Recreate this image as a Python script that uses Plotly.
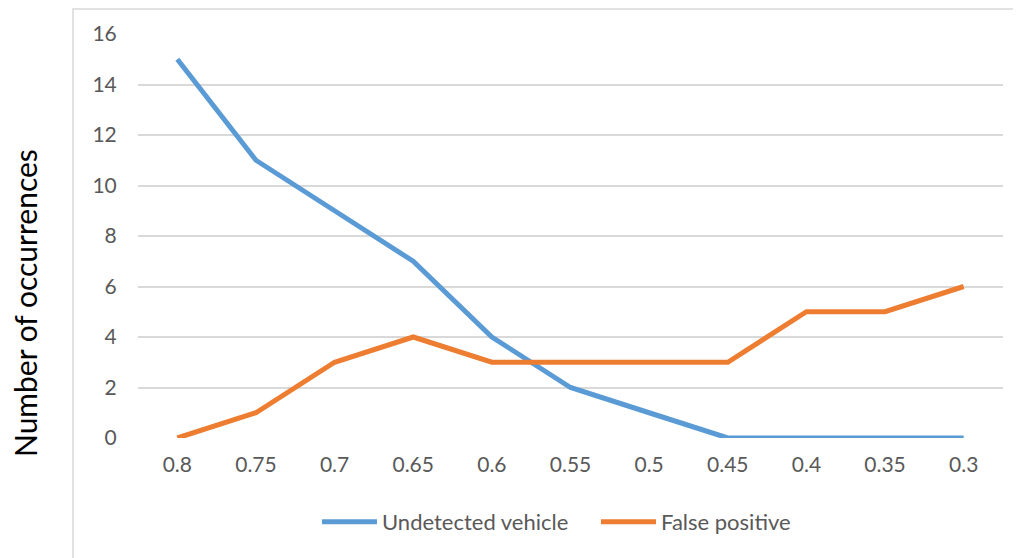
import plotly.graph_objects as go

thresholds = ["0.8", "0.75", "0.7", "0.65", "0.6", "0.55", "0.5", "0.45", "0.4", "0.35", "0.3"]
undetected = [15, 11, 9, 7, 4, 2, 1, 0, 0, 0, 0]
false_pos = [0, 1, 3, 4, 3, 3, 3, 3, 5, 5, 6]
y_title = "Number of occurrences"

font_fam = "Lato, Open Sans, sans-serif"
fig = go.Figure()
fig.add_trace(go.Scatter(x=thresholds, y=undetected, mode="lines", name="Undetected vehicle",
                         line=dict(color="#5B9BD5", width=5)))
fig.add_trace(go.Scatter(x=thresholds, y=false_pos, mode="lines", name="False positive",
                         line=dict(color="#ED7D31", width=5)))

W, H = 1013, 550
L, R, T, B = 130, 18, 26, 120
pw, ph = W - L - R, H - T - B

fig.update_layout(
    width=W, height=H,
    margin=dict(l=L, r=R, t=T, b=B, autoexpand=False),
    paper_bgcolor="white", plot_bgcolor="white",
    font=dict(family=font_fam, size=21, color="#595959"),
    showlegend=True,
    legend=dict(orientation="h", x=(309 - L) / pw, xanchor="left", y=(430 - 514) / ph, yanchor="middle",
                font=dict(size=22, color="#595959"), itemwidth=55,
                entrywidth=209, entrywidthmode="pixels"),
    xaxis=dict(type="category", range=[-0.5, 10.5], showgrid=False, zeroline=False,
               showline=False, ticks="outside", ticklen=8, tickcolor="white",
               tickfont=dict(size=21, color="#595959")),
    yaxis=dict(range=[0, 16], dtick=2, showgrid=True, gridcolor="#D9D9D9", gridwidth=1.5,
               zeroline=False, showline=False, ticks="outside", ticklen=16, tickcolor="white",
               tickfont=dict(size=21, color="#595959")),
    annotations=[dict(text=y_title, textangle=-90, xref="paper", yref="paper",
                      x=(17 - L) / pw, y=(430 - 295) / ph, xanchor="center", yanchor="middle",
                      showarrow=False, font=dict(size=30, color="black", family=font_fam))],
    shapes=[dict(type="rect", xref="paper", yref="paper", x0=(65 - L) / pw, x1=1.03,
                 y0=-0.5, y1=(430 - 1) / ph, line=dict(color="#D9D9D9", width=1.5), layer="below")],
)
fig.write_html("out.html")
